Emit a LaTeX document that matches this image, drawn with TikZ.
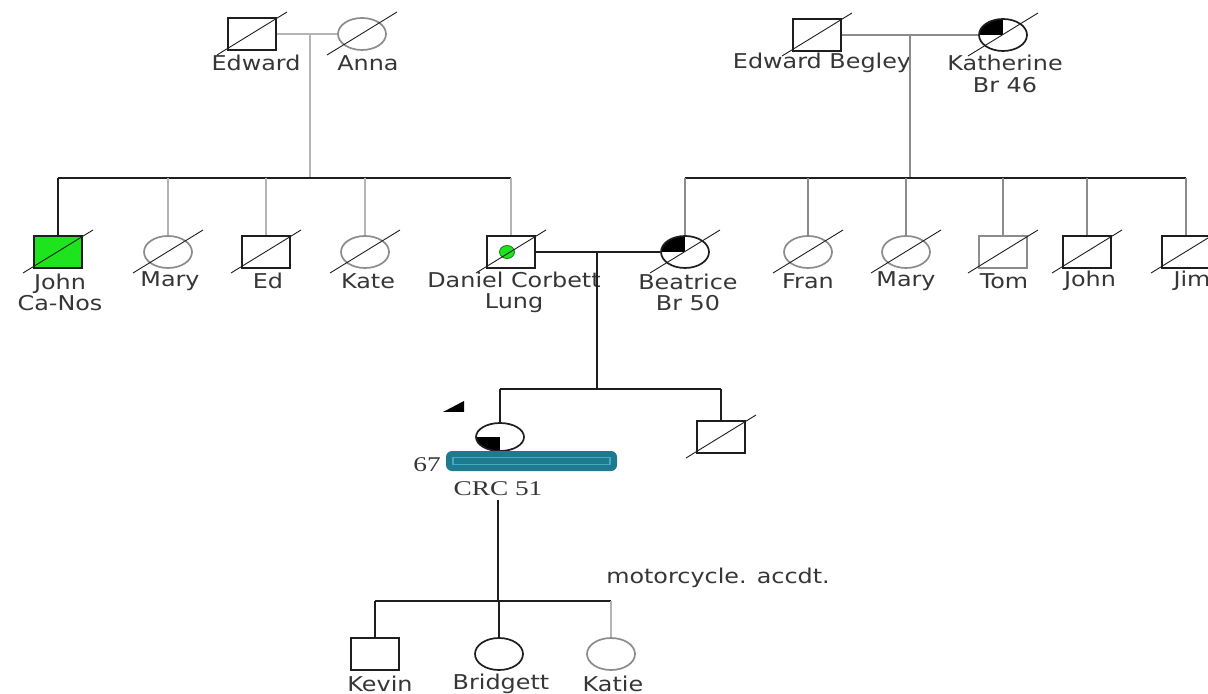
\documentclass[tikz,border=0pt]{standalone}
\usepackage{fontspec}
\setmainfont{DejaVu Sans}[FakeStretch=1.17]
\newfontfamily\notefont{Liberation Serif}[FakeStretch=1.3]
\usetikzlibrary{positioning,shapes.geometric}
\definecolor{pedline}{HTML}{1E1E1E}
\definecolor{pedgray}{HTML}{B4B4B4}
\definecolor{pedmid}{HTML}{8C8C8C}
\definecolor{pedgreen}{HTML}{1EE41E}
\definecolor{pedtext}{HTML}{363636}
\definecolor{redact}{HTML}{1E7A8E}
\definecolor{redactin}{HTML}{45A9C0}

\begin{document}
\begin{tikzpicture}[x=0.5pt,y=-0.5pt,
  male/.style={draw=pedline,line width=0.85pt,minimum width=24pt,minimum height=16pt,inner sep=0pt,fill=white},
  female/.style={ellipse,draw=pedline,line width=0.85pt,minimum width=24pt,minimum height=16pt,inner sep=0pt,fill=white},
  tlq/.style={path picture={\fill[black] (path picture bounding box.center) rectangle (path picture bounding box.north west);}},
  blq/.style={path picture={\fill[black] (path picture bounding box.center) rectangle (path picture bounding box.south west);}},
  pname/.style={font=\fontsize{10.2}{10.6}\selectfont,text=pedtext,align=center,inner sep=0pt},
  ln/.style={line width=0.85pt,pedline},
  gln/.style={line width=0.95pt,pedgray},
  mln/.style={line width=0.95pt,pedmid},
  slash/.style={line width=0.45pt,pedline}
]
\clip (0,0) rectangle (1208,694);

% Grandparents (left)
\node[male] (ed) at (252,34) {};
\node[female,draw=pedmid] (anna) at (362,34) {};
\node[pname] (edlbl) at (256,63) {Edward};
\node[pname] (annalbl) at (368,63) {Anna};

% Grandparents (right)
\node[male] (beg) at (817,35) {};
\node[female,tlq] (kath) at (1003,35) {};
\node[pname] (beglbl) at (822,63) {Edward Begley};
\node[pname] (kathlbl) at (1005,74) {Katherine\\Br 46};

% Sibship left
\node[male,fill=pedgreen] (john) at (58,252) {};
\node[female,draw=pedmid] (mary) at (168,252) {};
\node[male] (edd) at (266,252) {};
\node[female,draw=pedmid] (kate) at (365,252) {};
\node[male] (dan) at (511,252) {};
\node[ellipse,fill=pedgreen,draw=pedgreen!55!black,line width=0.4pt,minimum width=7.5pt,minimum height=6.5pt,inner sep=0pt] (dandot) at (507,252) {};

% Sibship right
\node[female,tlq] (bea) at (685,252) {};
\node[female,draw=pedmid] (fran) at (808,252) {};
\node[female,draw=pedmid] (maryb) at (906,252) {};
\node[male,draw=pedmid] (tom) at (1003,252) {};
\node[male] (johnb) at (1087,252) {};
\node[male] (jim) at (1186,252) {};

\node[pname] (johnlbl) at (60,292) {John\\Ca-Nos};
\node[pname] (marylbl) at (170,281) {Mary};
\node[pname] (eddlbl) at (268,281) {Ed};
\node[pname] (katelbl) at (368,281) {Kate};
\node[pname] (danlbl) at (514,292) {Daniel Corbett\\Lung};
\node[pname] (bealbl) at (688,292) {Beatrice\\Br 50};
\node[pname] (franlbl) at (808,281) {Fran};
\node[pname] (maryblbl) at (906,281) {Mary};
\node[pname] (tomlbl) at (1004,281) {Tom};
\node[pname] (johnblbl) at (1090,281) {John};
\node[pname] (jimlbl) at (1192,281) {Jim};

% Proband and brother
\node[female,blq,minimum height=14pt] (pro) at (500,437) {};
\node[male] (bro) at (721,437) {};
\node[pname,font=\notefont\fontsize{10.5}{11}\selectfont] (agelbl) at (427,465) {67};
\node[pname,font=\notefont\fontsize{10.5}{11}\selectfont] (crclbl) at (498,489) {CRC 51};
\node[fill=redact,rounded corners=3pt,minimum width=85.5pt,minimum height=10pt,inner sep=0pt] (bar) at (531.5,461) {};
\node[draw=redactin,line width=0.7pt,minimum width=78.5pt,minimum height=3.5pt,inner sep=0pt] (barin) at (bar) {};
\fill[black] (443,412) -- (464,401) -- (464,412) -- cycle;

% Children of proband
\node[male] (kevin) at (375,654) {};
\node[female] (brid) at (499,654) {};
\node[female,draw=pedmid] (katie) at (611,654) {};
\node[pname] (kevinlbl) at (380,684) {Kevin};
\node[pname] (bridlbl) at (501,684) {Bridgett};
\node[pname] (katielbl) at (613,684) {Katie};
\node[pname] (notelbl) at (718,578) {motorcycle. accdt.};

% Junctions
\coordinate (mtl) at (310,34);
\coordinate (sibl) at (310,178);
\coordinate (mtr) at (910,35);
\coordinate (sibr) at (910,178);
\coordinate (mtc) at (597,252);
\coordinate (sibc) at (597,389);
\coordinate (protop) at (498,500);
\coordinate (sibk) at (498,601);

% Lines
\draw[gln] (ed) -- (anna);
\draw[gln] (mtl) -- (sibl);
\draw[ln] (john |- sibl) -- (dan |- sibl);
\draw[ln] (john |- sibl) -- (john);
\foreach \n in {mary,edd,kate,dan} \draw[gln] (\n |- sibl) -- (\n);

\draw[mln] (beg) -- (kath);
\draw[mln] (mtr) -- (sibr);
\draw[ln] (bea |- sibr) -- (jim |- sibr);
\foreach \n in {bea,fran,maryb,tom,johnb,jim} \draw[mln] (\n |- sibr) -- (\n);

\draw[ln] (dan) -- (bea);
\draw[ln] (mtc) -- (sibc);
\draw[ln] (pro |- sibc) -- (bro |- sibc);
\draw[ln] (pro |- sibc) -- (pro);
\draw[ln] (bro |- sibc) -- (bro);

\draw[ln] (protop) -- (sibk);
\draw[ln] (kevin |- sibk) -- (katie |- sibk);
\draw[ln] (kevin |- sibk) -- (kevin);
\draw[ln] (brid |- sibk) -- (brid);
\draw[gln] (katie |- sibk) -- (katie);

% Deceased
\foreach \n in {ed,anna,beg,kath,john,mary,edd,kate,dan,bea,fran,maryb,tom,johnb,jim,bro}
  \draw[slash] ([shift={(-35,21)}]\n.center) -- ([shift={(35,-22)}]\n.center);
\end{tikzpicture}
\end{document}
